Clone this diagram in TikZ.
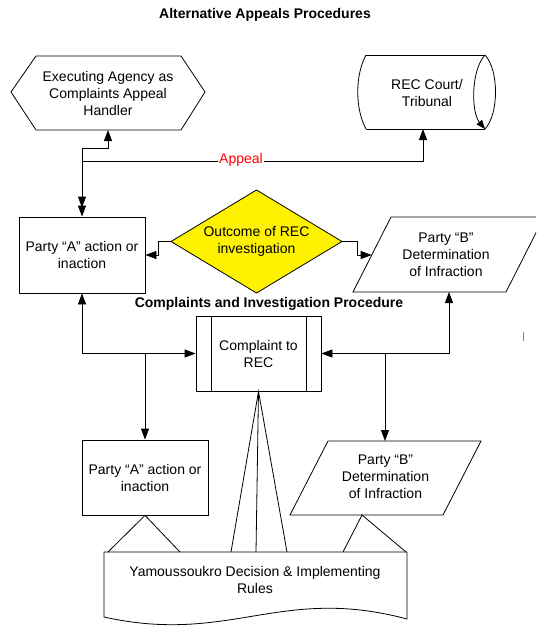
\documentclass[tikz,border=0pt]{standalone}
\usepackage{fontspec}
\setmainfont{Liberation Sans}
\usetikzlibrary{arrows.meta}

\tikzset{
  lbl/.style={font=\fontsize{14}{17}\selectfont, align=center, inner sep=0pt},
  heading/.style={font=\bfseries\fontsize{14}{17}\selectfont, inner sep=0pt},
  outline/.style={draw=black, line width=0.8pt, line join=miter},
  box/.style={lbl, outline, rectangle},
  wire/.style={line width=0.8pt},
  tip/.tip={Triangle[length=11pt,width=8pt]},
  arr/.style={wire, -tip},
  arrs/.style={wire, tip-tip},
}

\begin{document}
\begin{tikzpicture}[x=1pt,y=-1pt]
\clip (0,0) rectangle (536,626);
\fill[white] (0,0) rectangle (536,626);

% headings
\node[heading] (title) at (265,15) {Alternative Appeals Procedures};
\node[heading] (subtitle) at (269,304) {Complaints and Investigation Procedure};

% appeal handler (hexagon)
\draw[outline] (11,92) -- (36,56) -- (181,56) -- (205,92) -- (181,130) -- (36,130) -- cycle;
\node[lbl] (hex) at (108,93) {Executing Agency as\\Complaints Appeal\\Handler};
\coordinate (hexS) at (108,130);

% court (direct access storage)
\draw[outline] (366,55) -- (485,55) (366,129) -- (485,129);
\draw[outline] (366,55) .. controls (355,75) and (355,109) .. (366,129);
\draw[outline] (485,55) .. controls (499,70) and (499,114) .. (485,129);
\draw[wire, -{Triangle[length=9pt,width=7pt]}] (485,55) .. controls (471,70) and (471,112) .. (485,129);
\node[lbl] (rec) at (427,93) {REC Court/\\Tribunal};
\coordinate (recS) at (423,129);

% upper row
\node[box, minimum width=126pt, minimum height=76pt] (pa) at (82,255) {Party “A” action or\\inaction};

\draw[outline, fill=yellow] (171,241.5) -- (256.5,190) -- (342,241.5) -- (256.5,293) -- cycle;
\node[lbl] (dia) at (256.5,241) {Outcome of REC\\investigation};
\coordinate (diaW) at (171,241.5);
\coordinate (diaE) at (342,241.5);

\draw[outline] (391,217) -- (544,217) -- (506,292) -- (353,292) -- cycle;
\node[lbl] (pb) at (446,255) {Party “B”\\Determination\\of Infraction};
\coordinate (pbW) at (371.7,255);
\coordinate (pbS) at (449,292);

% complaint (predefined process)
\node[box, minimum width=125pt, minimum height=75pt] (cr) at (258.5,353.5) {Complaint to\\REC};
\draw[outline] (211,316) -- (211,391) (306,316) -- (306,391);

% lower row
\node[box, minimum width=126pt, minimum height=75pt] (pa2) at (145,477.5) {Party “A” action or\\inaction};

\draw[outline] (328,441) -- (481,441) -- (443,515) -- (290,515) -- cycle;
\node[lbl] (pb2) at (385.5,477) {Party “B”\\Determination\\of Infraction};
\coordinate (pb2N) at (385,441);
\coordinate (pb2S) at (362,515);

% rules document
\draw[outline] (104,552) -- (104,617) .. controls (230,645) and (280,585) .. (407,619) -- (407,552) -- cycle;
\node[lbl] (doc) at (255,580) {Yamoussoukro Decision \& Implementing\\Rules};
\coordinate (d1) at (108,552);
\coordinate (d2) at (180,552);
\coordinate (d3) at (231,552);
\coordinate (d4) at (256,552);
\coordinate (d5) at (287,552);
\coordinate (d6) at (343,552);
\coordinate (d7) at (406,552);

% appeal routes
\draw[arrs] (hexS) -- (108,148) -| (pa.north);
\draw[arrs, shorten <=9pt] (pa.north) |- (recS |- 0,161) -- (recS);
\node[lbl, text=red, fill=white, inner xsep=1.5pt, inner ysep=1pt] (appeal) at (241,160) {Appeal};

% investigation outcomes
\draw[arr] (diaW) -- (158,241.5) |- (pa.east);
\draw[arr] (diaE) -- (357,241.5) |- (pbW);

% complaint links
\draw[arrs] (pa.south) |- (cr.west);
\draw[arrs] (pbS) |- (cr.east);
\draw[arr] (pa2.north |- cr.west) -- (pa2.north);
\draw[arr] (pb2N |- cr.east) -- (pb2N);

% references to the rules
\draw[wire] (d1) -- (pa2.south) -- (d2);
\draw[wire] (d6) -- (pb2S) -- (d7);
\draw[wire] (d3) -- (cr.south) -- (d5);
\draw[wire] (cr.south) -- (d4);

% stray mark
\draw[gray, line width=1pt] (523,332) -- (523,341);
\end{tikzpicture}
\end{document}
